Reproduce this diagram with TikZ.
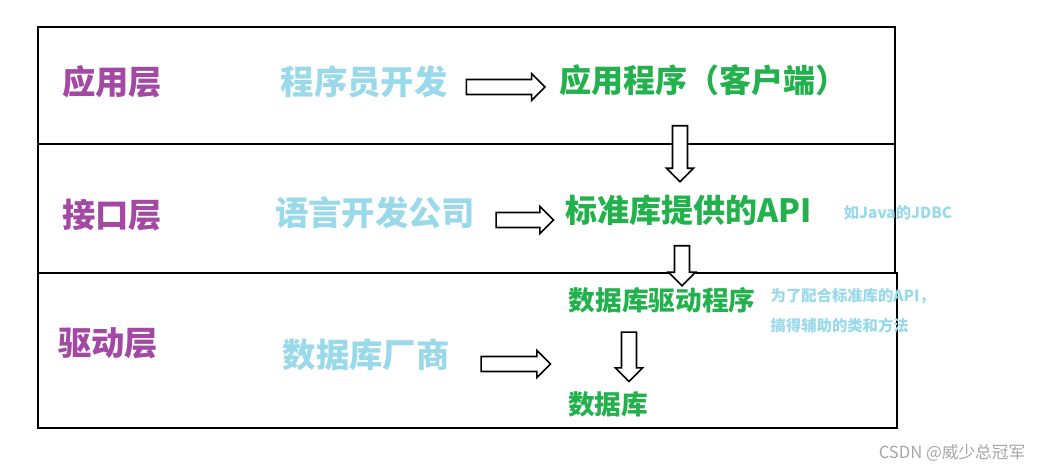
\documentclass[tikz,border=0pt]{standalone}
\usepackage{fontspec}
\setmainfont{Noto Sans CJK SC}
\usetikzlibrary{shapes.arrows}
\definecolor{lay}{HTML}{A349A4}
\definecolor{who}{HTML}{99D9EA}
\definecolor{out}{HTML}{22B14C}
\tikzset{
  layer/.style={font=\bfseries\fontsize{25}{27}\selectfont,text=lay},
  who/.style={font=\bfseries\fontsize{25}{27}\selectfont,text=who},
  res/.style={font=\bfseries\fontsize{24}{26}\selectfont,text=out},
  res2/.style={font=\bfseries\fontsize{20}{22}\selectfont,text=out},
  note/.style={font=\bfseries\fontsize{11.5}{13}\selectfont,text=who},
  box/.style={draw,line width=1.5pt},
  barrow/.style={single arrow,draw,line width=1.2pt,fill=white,inner sep=0pt,minimum width=20pt,single arrow head extend=4.5pt,text height=0pt,text depth=0pt,inner ysep=5pt},
}
\begin{document}
\begin{tikzpicture}[x=0.75pt,y=-0.75pt]
\useasboundingbox (0,0) rectangle (1052,473);
\draw[box] (38,27) rectangle (895,144);
\draw[box] (38,144) rectangle (895,273);
\draw[box] (38,273) rectangle (897,428);
\node[layer] (l1) at (112,82) {应用层};
\node[layer] (l2) at (112,215) {接口层};
\node[layer] (l3) at (108,343) {驱动层};
\node[who] (w1) at (364,82) {程序员开发};
\node[who] (w2) at (375,213) {语言开发公司};
\node[who] (w3) at (366,355) {数据库厂商};
\node[res] (r1) at (703,80) {应用程序（客户端）};
\node[res] (r2) at (689,210) {标准库提供的API};
\node[res2] (r3) at (662,300) {数据库驱动程序};
\node[res2] (r4) at (608,404) {数据库};
\node[note] (n1) at (898,213) {如Java的JDBC};
\node[note,anchor=west] (n2) at (766,296) {为了配合标准库的API，};
\node[note,anchor=west] (n3) at (766,326) {搞得辅助的类和方法};
\node[barrow,minimum height=59pt] (a1) at (502,87) {};
\node[barrow,minimum height=43pt] (a2) at (521,220) {};
\node[barrow,minimum height=52pt] (a3) at (512,364) {};
\node[barrow,minimum height=42pt,rotate=-90] (a4) at (680,150) {};
\node[barrow,minimum height=30pt,rotate=-90] (a5) at (682,262) {};
\node[barrow,minimum height=37pt,rotate=-90] (a6) at (629,353) {};
\node[text=gray!70,font=\fontsize{12.5}{14}\selectfont] (wm) at (952,453) {CSDN @威少总冠军};
\end{tikzpicture}
\end{document}
